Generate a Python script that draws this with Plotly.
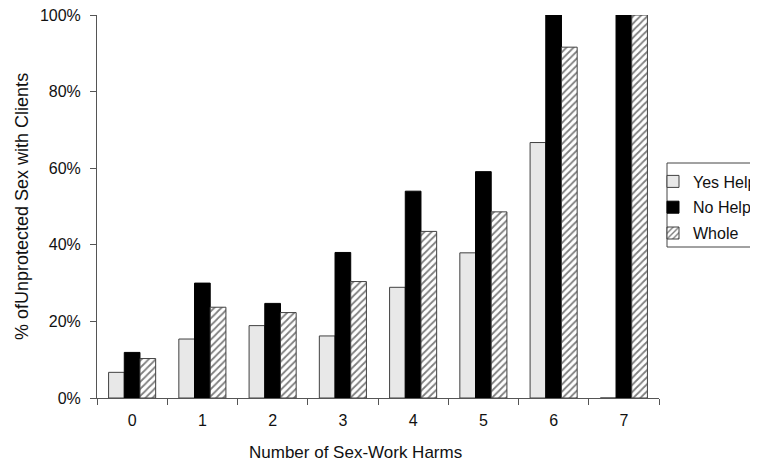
import plotly.graph_objects as go

categories = ["0", "1", "2", "3", "4", "5", "6", "7"]
yes_help = [0.067, 0.154, 0.189, 0.162, 0.289, 0.379, 0.667, 0.0]
no_help = [0.119, 0.300, 0.247, 0.380, 0.540, 0.591, 1.000, 1.000]
whole = [0.103, 0.237, 0.223, 0.304, 0.435, 0.486, 0.916, 1.000]
y_ticks = [0, 0.2, 0.4, 0.6, 0.8, 1.0]
y_tick_labels = ["0%", "20%", "40%", "60%", "80%", "100%"]

FONT = "Liberation Sans, Arial, sans-serif"

fig = go.Figure()
fig.add_trace(go.Bar(
    name="Yes Help", x=categories, y=yes_help, legendgroup="a",
    marker=dict(color="#e8e8e8", line=dict(color="#404040", width=1)),
))
fig.add_trace(go.Bar(
    name="No Help", x=categories, y=no_help, legendgroup="b",
    marker=dict(color="#000000", line=dict(color="#000000", width=1)),
))
fig.add_trace(go.Bar(
    name="Whole", x=categories, y=whole, legendgroup="c",
    marker=dict(color="#ffffff", line=dict(color="#404040", width=1),
                pattern=dict(shape="/", fgcolor="#000000", bgcolor="#ffffff",
                             size=5, solidity=0.35)),
))

# page body adds an 8px offset; the figure is sized so the plot lands at
# x 97..659, y 15..398 in the 758x468 window
fig.update_layout(
    width=750, height=460,
    margin=dict(l=89, r=99, t=7, b=70, autoexpand=False),
    paper_bgcolor="white", plot_bgcolor="white",
    barmode="group", bargap=0.33, bargroupgap=0,
    font=dict(family=FONT, size=16, color="#111111"),
    showlegend=True,
    legend=dict(x=(653 - 97) / 562, y=(398 - 207.5) / 383, xanchor="left", yanchor="middle",
                bgcolor="rgba(0,0,0,0)", borderwidth=0, tracegroupgap=2,
                font=dict(family=FONT, size=16, color="#111111")),
    xaxis=dict(type="category", tickson="boundaries", ticks="outside", ticklen=6,
               tickcolor="#555555", showline=True, linecolor="#555555", linewidth=1,
               showgrid=False, zeroline=False, ticklabelstandoff=8,
               tickfont=dict(family=FONT, size=16)),
    yaxis=dict(range=[0, 1.0], tickvals=y_ticks, ticktext=y_tick_labels,
               ticks="outside", ticklen=6, tickcolor="#555555",
               showline=True, linecolor="#555555", linewidth=1,
               showgrid=False, zeroline=False, ticklabelstandoff=6,
               ticklabeloverflow="allow",
               tickfont=dict(family=FONT, size=16)),
    shapes=[dict(type="rect", xref="paper", yref="paper",
                 x0=(667 - 97) / 562, x1=(762 - 97) / 562,
                 y0=(398 - 247) / 383, y1=(398 - 163) / 383,
                 line=dict(color="#444444", width=1), fillcolor="rgba(0,0,0,0)")],
    annotations=[
        dict(text="Number of Sex-Work Harms", xref="paper", yref="paper",
             x=(355 - 97) / 562, y=-(452 - 398) / 383, xanchor="center", yanchor="middle",
             showarrow=False, font=dict(family=FONT, size=17, color="#111111")),
        dict(text="% ofUnprotected Sex with Clients", xref="paper", yref="paper",
             x=(22 - 97) / 562, y=(398 - 207) / 383, xanchor="center", yanchor="middle",
             textangle=-90, showarrow=False, font=dict(family=FONT, size=18, color="#111111")),
    ],
)

fig.write_html("out.html")
